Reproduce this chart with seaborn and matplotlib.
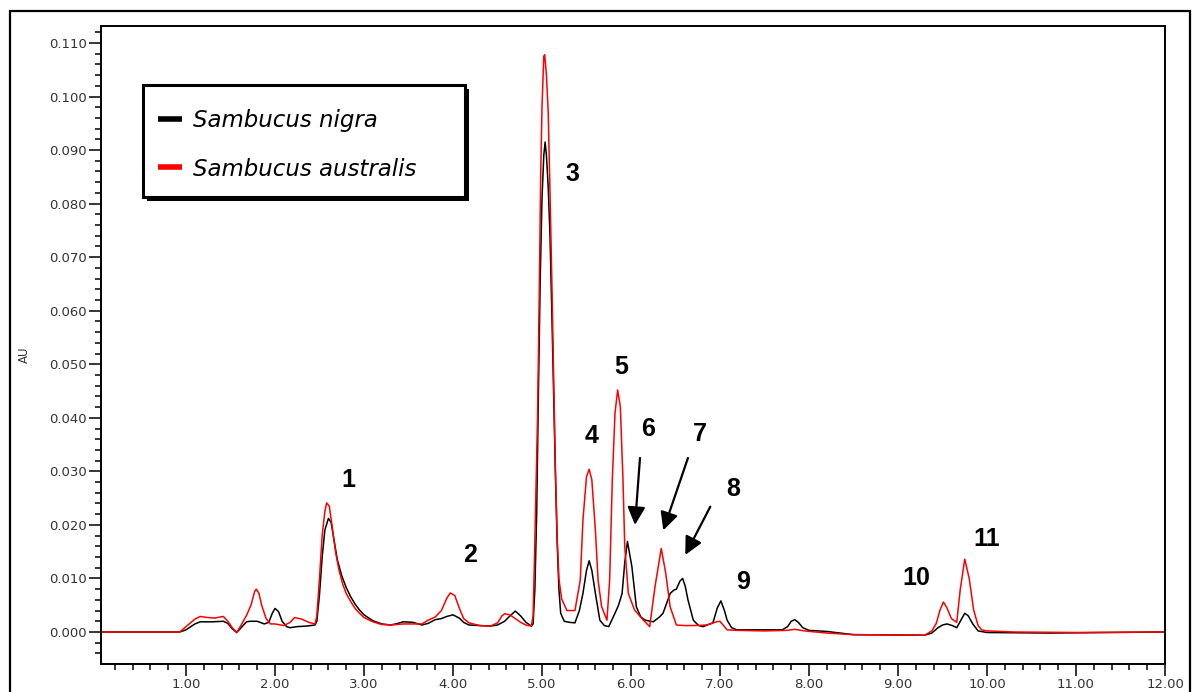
import numpy as np
import pandas as pd
import matplotlib
matplotlib.use("Agg")
import matplotlib.pyplot as plt
import seaborn as sns
from matplotlib.patches import Rectangle
from matplotlib.lines import Line2D
from matplotlib.ticker import MultipleLocator, FormatStrFormatter

# ---------------- data ----------------
nigra_t = [0.05, 0.93, 1.00, 1.10, 1.16, 1.30, 1.42, 1.47, 1.52, 1.57, 1.62, 1.68, 1.72, 1.80, 1.88, 1.93,
           1.97, 2.00, 2.04, 2.08, 2.13, 2.17, 2.25, 2.35, 2.45, 2.47, 2.50, 2.53, 2.56, 2.60, 2.63, 2.66,
           2.70, 2.75, 2.80, 2.85, 2.90, 2.95, 3.00, 3.10, 3.20, 3.30, 3.38, 3.44, 3.55, 3.65, 3.72, 3.80,
           3.87, 3.93, 4.00, 4.07, 4.12, 4.18, 4.30, 4.42, 4.50, 4.58, 4.64, 4.70, 4.76, 4.82, 4.88, 4.90,
           4.92, 4.94, 4.96, 4.98, 5.00, 5.02, 5.035, 5.05, 5.07, 5.09, 5.11, 5.13, 5.15, 5.17, 5.19, 5.21,
           5.25, 5.31, 5.37, 5.42, 5.46, 5.50, 5.53, 5.56, 5.60, 5.65, 5.70, 5.75, 5.82, 5.86, 5.90, 5.93,
           5.96, 6.01, 6.06, 6.11, 6.16, 6.25, 6.32, 6.36, 6.44, 6.48, 6.51, 6.55, 6.58, 6.61, 6.64, 6.70,
           6.76, 6.81, 6.92, 6.97, 7.01, 7.05, 7.08, 7.13, 7.19, 7.40, 7.70, 7.76, 7.80, 7.84, 7.88, 7.93,
           8.00, 8.20, 8.50, 9.30, 9.38, 9.45, 9.50, 9.55, 9.61, 9.66, 9.70, 9.75, 9.79, 9.84, 9.90, 10.00,
           10.70, 12.00]
nigra_au = [0.0, 0.0, 0.0004, 0.0015, 0.0019, 0.0019, 0.0020, 0.0016, 0.0006, -0.0001, 0.0008, 0.0019, 0.0020,
            0.0020, 0.0015, 0.0018, 0.0035, 0.0044, 0.0038, 0.0020, 0.0010, 0.0008, 0.0010, 0.0011, 0.0013,
            0.0020, 0.0070, 0.0140, 0.0190, 0.0212, 0.0205, 0.0175, 0.0135, 0.0105, 0.0083, 0.0066, 0.0052,
            0.0041, 0.0032, 0.0021, 0.0015, 0.0013, 0.0016, 0.0019, 0.0018, 0.0013, 0.0016, 0.0023, 0.0025,
            0.0029, 0.0032, 0.0026, 0.0018, 0.0013, 0.0012, 0.0011, 0.0013, 0.0020, 0.0030, 0.0039, 0.0030,
            0.0018, 0.0011, 0.0015, 0.0080, 0.0220, 0.0450, 0.0660, 0.0810, 0.0890, 0.0915, 0.0890, 0.0830,
            0.0740, 0.0600, 0.0450, 0.0300, 0.0170, 0.0080, 0.0035, 0.0020, 0.0018, 0.0017, 0.0040, 0.0072,
            0.0115, 0.0133, 0.0115, 0.0072, 0.0022, 0.0012, 0.0010, 0.0035, 0.0050, 0.0072, 0.0130, 0.0169,
            0.0122, 0.0047, 0.0028, 0.0022, 0.0019, 0.0028, 0.0035, 0.0072, 0.0078, 0.0080, 0.0095, 0.0100,
            0.0085, 0.0060, 0.0022, 0.0012, 0.0010, 0.0017, 0.0045, 0.0058, 0.0040, 0.0022, 0.0008, 0.0004,
            0.0004, 0.0004, 0.0010, 0.0020, 0.0023, 0.0018, 0.0008, 0.0003, 0.0001, -0.0005, -0.0006, -0.0002,
            0.0008, 0.0013, 0.0015, 0.0012, 0.0008, 0.0020, 0.0035, 0.0030, 0.0015, 0.0002, -0.0001, -0.0002,
            0.0]

australis_t = [0.05, 0.93, 1.00, 1.10, 1.16, 1.24, 1.32, 1.42, 1.47, 1.52, 1.57, 1.62, 1.68, 1.73, 1.77, 1.79,
               1.82, 1.85, 1.90, 1.95, 2.00, 2.10, 2.17, 2.22, 2.30, 2.38, 2.45, 2.47, 2.50, 2.53, 2.56, 2.58,
               2.61, 2.64, 2.68, 2.72, 2.76, 2.80, 2.85, 2.90, 2.95, 3.00, 3.10, 3.20, 3.30, 3.44, 3.55, 3.65,
               3.72, 3.80, 3.87, 3.93, 3.97, 4.02, 4.07, 4.12, 4.18, 4.30, 4.42, 4.50, 4.55, 4.58, 4.64, 4.70,
               4.76, 4.82, 4.88, 4.90, 4.91, 4.92, 4.93, 4.95, 4.97, 4.985, 5.00, 5.02, 5.03, 5.05, 5.07, 5.09,
               5.11, 5.13, 5.15, 5.17, 5.19, 5.22, 5.28, 5.37, 5.43, 5.46, 5.50, 5.53, 5.56, 5.60, 5.63, 5.67,
               5.73, 5.76, 5.79, 5.82, 5.85, 5.88, 5.91, 5.93, 5.97, 6.04, 6.14, 6.21, 6.27, 6.34, 6.39, 6.44,
               6.51, 6.60, 6.70, 6.85, 6.96, 7.00, 7.04, 7.08, 7.20, 7.50, 7.75, 7.84, 7.95, 8.20, 8.50, 9.30,
               9.38, 9.43, 9.47, 9.51, 9.55, 9.60, 9.66, 9.70, 9.75, 9.80, 9.85, 9.90, 9.94, 10.00, 10.30,
               11.00, 12.00]
australis_au = [0.0, 0.0, 0.0010, 0.0024, 0.0029, 0.0027, 0.0026, 0.0029, 0.0020, 0.0008, -0.0001, 0.0013,
                0.0031, 0.0050, 0.0075, 0.0080, 0.0072, 0.0050, 0.0025, 0.0015, 0.0015, 0.0012, 0.0018, 0.0027,
                0.0024, 0.0018, 0.0015, 0.0030, 0.0100, 0.0180, 0.0225, 0.0241, 0.0235, 0.0200, 0.0150, 0.0115,
                0.0090, 0.0072, 0.0057, 0.0044, 0.0035, 0.0027, 0.0019, 0.0014, 0.0013, 0.0015, 0.0015, 0.0015,
                0.0022, 0.0028, 0.0040, 0.0063, 0.0073, 0.0068, 0.0045, 0.0025, 0.0017, 0.0012, 0.0011, 0.0017,
                0.0030, 0.0034, 0.0032, 0.0025, 0.0018, 0.0013, 0.0011, 0.0030, 0.0100, 0.0170, 0.0250, 0.0400,
                0.0640, 0.0850, 0.0980, 0.1075, 0.1078, 0.1040, 0.0970, 0.0820, 0.0660, 0.0480, 0.0310, 0.0180,
                0.0100, 0.0062, 0.0040, 0.0040, 0.0097, 0.0209, 0.0290, 0.0304, 0.0284, 0.0190, 0.0097, 0.0047,
                0.0022, 0.0097, 0.0284, 0.0408, 0.0452, 0.0421, 0.0284, 0.0159, 0.0072, 0.0041, 0.0022, 0.0010,
                0.0085, 0.0156, 0.0110, 0.0047, 0.0013, 0.0012, 0.0012, 0.0013, 0.0019, 0.0020, 0.0012, 0.0004,
                0.0003, 0.0002, 0.0003, 0.0005, 0.0002, -0.0002, -0.0005, -0.0006, 0.0002, 0.0016, 0.0040,
                0.0056, 0.0045, 0.0025, 0.0018, 0.0080, 0.0136, 0.0100, 0.0041, 0.0012, 0.0004, 0.0002, 0.0000,
                -0.0001, 0.0]

series_names = ["Sambucus nigra", "Sambucus australis"]
series_colors = ["#000000", "#ff0000"]

peak_labels = ["1", "2", "3", "4", "5", "6", "7", "8", "9", "10", "11"]
peak_label_x = [2.82, 4.19, 5.337, 5.562, 5.888, 6.191, 6.775, 7.146, 7.258, 9.202, 10.0]
peak_label_y = [0.02708, 0.01307, 0.08422, 0.03529, 0.04818, 0.0366, 0.03567, 0.0254, 0.00803, 0.00878, 0.01606]

arrow_tail = [(6.101, 0.0325), (6.640, 0.0325), (6.891, 0.0234)]
arrow_tip = [(6.045, 0.0200), (6.363, 0.0190), (6.610, 0.0144)]

# ---------------- figure ----------------
sns.set_style("white")
plt.rcParams["font.family"] = ["DejaVu Sans"]

W, H = 1192, 692
fig = plt.figure(figsize=(W / 100, H / 100), dpi=100)
ax_l, ax_r, ax_t, ax_b = 101, 1165, 26, 664
ax = fig.add_axes([ax_l / W, (H - ax_b) / H, (ax_r - ax_l) / W, (ax_b - ax_t) / H])

df = pd.concat([
    pd.DataFrame({"time": nigra_t, "au": nigra_au, "species": series_names[0]}),
    pd.DataFrame({"time": australis_t, "au": australis_au, "species": series_names[1]}),
], ignore_index=True)

sns.lineplot(data=df, x="time", y="au", hue="species", hue_order=series_names,
             palette=dict(zip(series_names, series_colors)), estimator=None, sort=False,
             linewidth=1.1, legend=False, ax=ax)

ax.set_xlim(0.045, 12.0)
ax.set_ylim(-0.00598, 0.11317)

ax.xaxis.set_major_locator(MultipleLocator(1.0))
ax.xaxis.set_minor_locator(MultipleLocator(0.2))
ax.xaxis.set_major_formatter(FormatStrFormatter("%.2f"))
ax.yaxis.set_major_locator(MultipleLocator(0.01))
ax.yaxis.set_minor_locator(MultipleLocator(0.002))
ax.yaxis.set_major_formatter(FormatStrFormatter("%.3f"))

ax.tick_params(which="both", bottom=True, left=True, top=False, right=False, direction="out",
               color="black")
ax.tick_params(which="major", length=8.5, width=1.1, labelsize=9.5, labelcolor="#333333", pad=1.5)
ax.tick_params(which="minor", length=4.3, width=1.1)

for s in ax.spines.values():
    s.set_visible(True)
    s.set_color("black")
    s.set_linewidth(1.4)

ax.set_xlabel("")
ax.set_ylabel("AU", fontsize=8.5, color="#333333")
ax.yaxis.set_label_coords(-(ax_l - 31) / (ax_r - ax_l), (ax_b - 355) / (ax_b - ax_t))

# peak numbers
for lab, x, y in zip(peak_labels, peak_label_x, peak_label_y):
    ax.text(x, y, lab, ha="center", va="baseline", fontsize=18, fontweight="bold",
            family="Liberation Sans", color="black")

# arrows
for (tx, ty), (hx, hy) in zip(arrow_tail, arrow_tip):
    ax.annotate("", xy=(hx, hy), xytext=(tx, ty),
                arrowprops=dict(arrowstyle="-|>,head_length=0.6,head_width=0.3", lw=1.6,
                                color="black", mutation_scale=18, shrinkA=0, shrinkB=0))

# legend box (drawn manually to match the boxed, shadowed legend)
aw, ah = ax_r - ax_l, ax_b - ax_t
def fx(px):
    return (px - ax_l) / aw
def fy(py):
    return (ax_b - py) / ah

bx0, bx1, by0, by1 = 143, 465, 85, 197
ax.add_patch(Rectangle((fx(bx0 + 4), fy(by1 + 4)), fx(bx1) - fx(bx0), fy(by0) - fy(by1),
                       transform=ax.transAxes, facecolor="black", edgecolor="black", lw=0, zorder=5))
ax.add_patch(Rectangle((fx(bx0), fy(by1)), fx(bx1) - fx(bx0), fy(by0) - fy(by1),
                       transform=ax.transAxes, facecolor="white", edgecolor="black", lw=2.2, zorder=6))
for name, col, py in zip(series_names, series_colors, [119, 167]):
    ax.add_line(Line2D([fx(158), fx(182)], [fy(py), fy(py)], transform=ax.transAxes,
                       color=col, lw=4, solid_capstyle="butt", zorder=7))
    ax.text(fx(193), fy(py + 8.5), name, transform=ax.transAxes, ha="left", va="baseline",
            fontsize=16.5, style="italic", color="black", zorder=7)

# outer frame
fig.add_artist(Rectangle((10 / W, -0.05), 1180 / W, 1.05 - 11 / H, transform=fig.transFigure,
                         fill=False, edgecolor="black", lw=1.6))

fig.savefig("out.png", dpi=100)
